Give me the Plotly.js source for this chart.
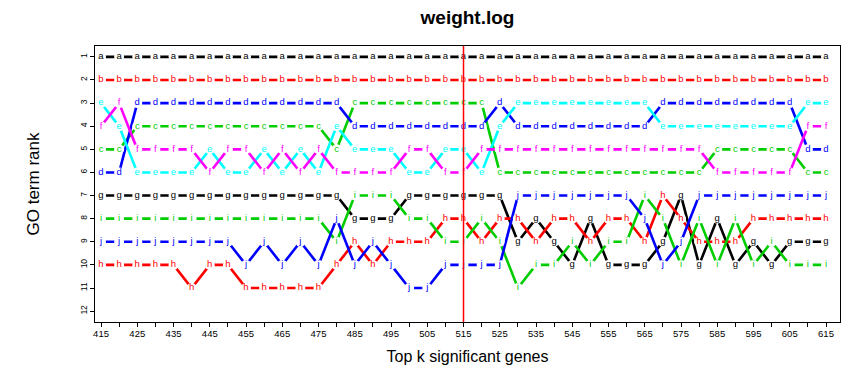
<!DOCTYPE html>
<html>
<head>
<meta charset="utf-8">
<script src="https://cdn.plot.ly/plotly-3.0.1.min.js"></script>
<style>html,body{margin:0;padding:0;background:#fff;}#chart{width:857px;height:370px;}</style>
</head>
<body>
<div id="chart"></div>
<script>
// Top k significant genes (x values)
const kValues = [415,420,425,430,435,440,445,450,455,460,465,470,475,480,485,490,495,500,505,510,515,520,525,530,535,540,545,550,555,560,565,570,575,580,585,590,595,600,605,610,615];
// labels drawn under ticks (R drops every other overlapping label)
const kLabels = ['415','','425','','435','','445','','455','','465','','475','','485','','495','','505','','515','','525','','535','','545','','555','','565','','575','','585','','595','','605','','615'];
const rankTicks = [1,2,3,4,5,6,7,8,9,10,11,12];
const cutoff = 515;

const termLetters = ['a','b','c','d','e','f','g','h','i','j'];
const termColors = ['#000000','#FF0000','#00CD00','#0000FF','#00FFFF','#FF00FF','#000000','#FF0000','#00CD00','#0000FF'];

const rankA = [1,1,1,1,1,1,1,1,1,1,1,1,1,1,1,1,1,1,1,1,1,1,1,1,1,1,1,1,1,1,1,1,1,1,1,1,1,1,1,1,1];
const rankB = [2,2,2,2,2,2,2,2,2,2,2,2,2,2,2,2,2,2,2,2,2,2,2,2,2,2,2,2,2,2,2,2,2,2,2,2,2,2,2,2,2];
const rankC = [5,5,4,4,4,4,4,4,4,4,4,4,4,5,3,3,3,3,3,3,3,3,6,6,6,6,6,6,6,6,6,6,6,6,5,5,5,5,5,6,6];
const rankD = [6,6,3,3,3,3,3,3,3,3,3,3,3,3,4,4,4,4,4,4,4,4,3,4,4,4,4,4,4,4,4,3,3,3,3,3,3,3,3,5,5];
const rankE = [3,4,6,6,6,6,5,6,6,5,6,5,6,4,5,5,5,6,6,5,5,6,4,3,3,3,3,3,3,3,3,4,4,4,4,4,4,4,4,3,3];
const rankF = [4,3,5,5,5,5,6,5,5,6,5,6,5,6,6,6,6,5,5,6,6,5,5,5,5,5,5,5,5,5,5,5,5,5,6,6,6,6,6,4,4];
const rankG = [7,7,7,7,7,7,7,7,7,7,7,7,7,7,8,8,8,7,7,7,7,7,7,9,8,9,10,8,10,10,10,9,7,10,8,10,9,10,9,9,9];
const rankH = [10,10,10,10,10,11,10,10,11,11,11,11,11,10,9,10,9,9,9,8,8,9,8,8,9,8,8,9,8,8,9,7,8,9,9,9,8,8,8,8,8];
const rankI = [8,8,8,8,8,8,8,8,8,8,8,8,8,9,7,7,7,8,8,9,9,8,9,11,10,10,9,10,9,9,7,8,10,8,10,8,10,9,10,10,10];
const rankJ = [9,9,9,9,9,9,9,9,10,9,10,9,10,8,10,9,10,11,11,10,10,10,10,7,7,7,7,7,7,7,8,10,9,7,7,7,7,7,7,7,7];

const allRanks = [rankA,rankB,rankC,rankD,rankE,rankF,rankG,rankH,rankI,rankJ];

const lineTraces = [];
const pointTraces = [];
allRanks.forEach(function(r, s){
  lineTraces.push({
    x: kValues, y: r, type: 'scatter', mode: 'lines',
    line: {color: termColors[s], width: 2.6},
    hoverinfo: 'skip', showlegend: false
  });
  pointTraces.push({
    x: kValues, y: r, type: 'scatter', mode: 'markers+text',
    marker: {symbol: 'circle', size: 10, color: '#ffffff', line: {width: 0}},
    text: kValues.map(function(){ return termLetters[s]; }),
    textposition: 'middle center',
    textfont: {family: 'Liberation Sans, Arial, sans-serif', size: 9.5, color: termColors[s]},
    hoverinfo: 'skip', showlegend: false
  });
});

const layout = {
  width: 857, height: 370,
  margin: {l: 95, r: 17, t: 46, b: 48},
  paper_bgcolor: '#ffffff', plot_bgcolor: '#ffffff',
  font: {family: 'Liberation Sans, Arial, sans-serif', color: '#000'},
  title: {text: '<b>weight.log</b>', font: {size: 19, family: 'Liberation Sans, Arial, sans-serif'},
          xref: 'paper', x: 0.5, xanchor: 'center', yref: 'container', y: 0.953, yanchor: 'middle'},
  xaxis: {
    range: [413.34, 618.86], showgrid: false, zeroline: false,
    showline: true, mirror: true, linecolor: '#000', linewidth: 1,
    ticks: 'outside', ticklen: 4, tickcolor: '#000',
    tickmode: 'array', tickvals: kValues, ticktext: kLabels,
    tickfont: {size: 9.5}, ticklabelstandoff: -1,
    title: {text: 'Top k significant genes', font: {size: 16}, standoff: 12}
  },
  yaxis: {
    range: [12.47, 0.53], showgrid: false, zeroline: false,
    showline: true, mirror: true, linecolor: '#000', linewidth: 1,
    ticks: 'outside', ticklen: 4, tickcolor: '#000',
    tickmode: 'array', tickvals: rankTicks, ticktext: rankTicks.map(String),
    tickangle: -90, tickfont: {size: 8.5},
    title: {text: 'GO term rank', font: {size: 17}, standoff: 34}
  },
  shapes: [{type: 'line', xref: 'x', yref: 'paper', x0: cutoff, x1: cutoff, y0: 0, y1: 1,
            line: {color: '#FF0000', width: 1.5}, layer: 'above'}]
};

Plotly.newPlot('chart', lineTraces.concat(pointTraces), layout, {displayModeBar: false, staticPlot: true});
</script>
</body>
</html>
